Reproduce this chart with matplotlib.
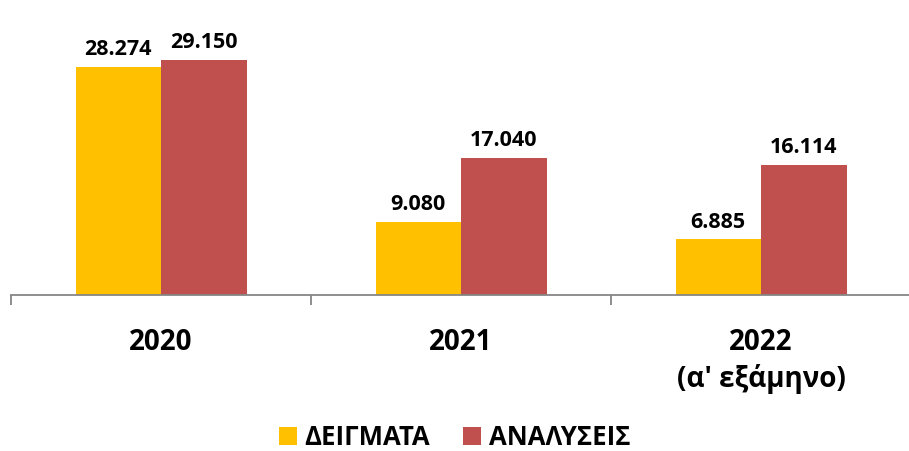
import matplotlib
matplotlib.use("Agg")
import matplotlib.pyplot as plt
from matplotlib.patches import Patch
import numpy as np

plt.rcParams['font.family'] = ['Open Sans', 'DejaVu Sans']

categories = ["2020", "2021", "2022\n(α' εξάμηνο)"]
series_names = ["ΔΕΙΓΜΑΤΑ", "ΑΝΑΛΥΣΕΙΣ"]
deigmata = [28274, 9080, 6885]
analyseis = [29150, 17040, 16114]
value_labels_d = ["28.274", "9.080", "6.885"]
value_labels_a = ["29.150", "17.040", "16.114"]
colors = ["#FFC000", "#C0504D"]

W, H = 909, 452
fig = plt.figure(figsize=(W / 100, H / 100), dpi=100)
ax = fig.add_axes([11 / W, (H - 296) / H, 900 / W, 296 / H])

x = np.arange(len(categories))
bw = 0.285
b1 = ax.bar(x - bw / 2, deigmata, bw, color=colors[0])
b2 = ax.bar(x + bw / 2, analyseis, bw, color=colors[1])

for bars, labels in ((b1, value_labels_d), (b2, value_labels_a)):
    for rect, lab in zip(bars, labels):
        ax.annotate(lab, (rect.get_x() + rect.get_width() / 2, rect.get_height()),
                    xytext=(0, 5.5), textcoords="offset points", ha="center", va="bottom",
                    fontsize=15.5, fontweight="bold", color="black")

ax.set_xlim(-0.5, 2.5)
ax.set_ylim(0, 36700)
for s in ("top", "right", "left"):
    ax.spines[s].set_visible(False)
ax.spines["bottom"].set_color("#868686")
ax.spines["bottom"].set_linewidth(1.3)
ax.set_yticks([])
ax.set_xticks([-0.5, 0.5, 1.5, 2.5])
ax.set_xticklabels([])
ax.tick_params(axis="x", which="major", length=7, width=1.3, color="#868686", direction="out")
ax.set_xticks(x, minor=True)
ax.set_xticklabels(categories, minor=True, fontsize=20, fontweight="bold", linespacing=1.3)
ax.tick_params(axis="x", which="minor", length=0, pad=23)
for lab in ax.get_xticklabels(minor=True):
    lab.set_verticalalignment("top")

handles = [Patch(facecolor=c, edgecolor="none") for c in colors]
fig.legend(handles, series_names, loc="center", bbox_to_anchor=(0.5, (H - 438) / H),
           ncol=2, frameon=False, handlelength=0.7, handleheight=0.7,
           handletextpad=0.3, columnspacing=1.3, borderpad=0.2,
           prop={"weight": "bold", "size": 18.5})

fig.savefig("out.png", dpi=100)
